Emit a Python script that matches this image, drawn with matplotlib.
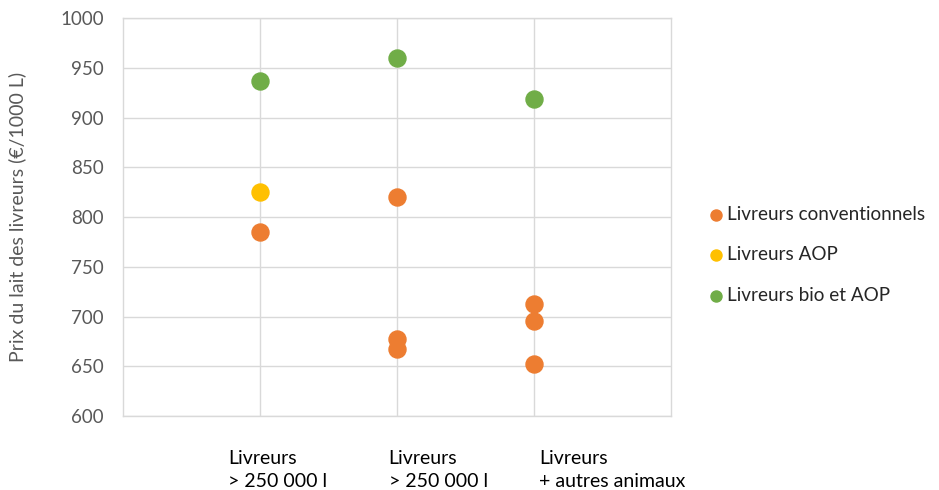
import matplotlib.pyplot as plt

# données
positions = [1, 2, 3]
conv_x = [1, 2, 2, 2, 3, 3, 3]
conv_y = [785, 820, 677, 667, 713, 696, 652]
aop_x = [1]
aop_y = [825]
bio_x = [1, 2, 3]
bio_y = [937, 960, 919]
group_labels = ["Livreurs\n> 250 000 l", "Livreurs\n> 250 000 l", "Livreurs\n+ autres animaux"]
label_x = [0.77, 1.94, 3.04]
yticks = list(range(600, 1001, 50))

plt.rcParams['font.family'] = ['Lato', 'DejaVu Sans']

fig = plt.figure(figsize=(9.39, 4.9), dpi=100)
ax = fig.add_axes([0.131, 0.151, 0.5835, 0.812])

grid_col = '#d9d9d9'
text_col = '#595959'

ax.scatter(conv_x, conv_y, s=150, color='#ED7D31', label='Livreurs conventionnels', zorder=3)
ax.scatter(aop_x, aop_y, s=150, color='#FFC000', label='Livreurs AOP', zorder=3)
ax.scatter(bio_x, bio_y, s=150, color='#70AD47', label='Livreurs bio et AOP', zorder=3)

ax.set_xlim(0, 4)
ax.set_ylim(600, 1000)
ax.set_yticks(yticks)
ax.set_xticks(positions)
ax.set_xticklabels([])
ax.grid(True, color=grid_col, linewidth=1)
ax.set_axisbelow(True)
ax.tick_params(length=0, labelsize=13.5, colors=text_col, pad=14)
for sp in ax.spines.values():
    sp.set_color(grid_col)
    sp.set_linewidth(1)

ax.set_ylabel('Prix du lait des livreurs (€/1000 L)', fontsize=14, color=text_col, labelpad=24)

for x, lab in zip(label_x, group_labels):
    ax.text(x, -0.085, lab, transform=ax.get_xaxis_transform(), ha='left', va='top',
            fontsize=14, color='black', linespacing=1.45)

leg = ax.legend(loc='center left', bbox_to_anchor=(1.03, 0.405), frameon=False,
                fontsize=13.6, handletextpad=0.0, labelspacing=1.25,
                markerscale=0.65, handlelength=1.2)
for t in leg.get_texts():
    t.set_color('#262626')

fig.savefig('out.png', dpi=100)
